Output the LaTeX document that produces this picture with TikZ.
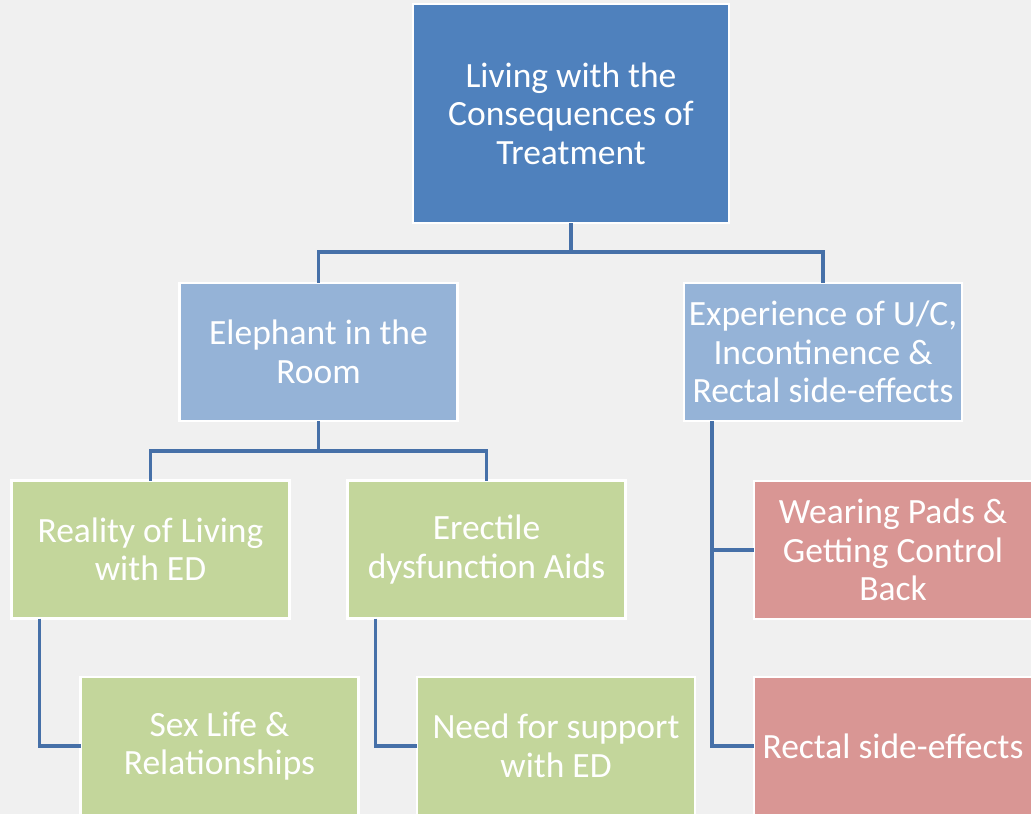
\documentclass[tikz,border=0pt]{standalone}
\usepackage{fontspec}
\setmainfont{Carlito}
\usetikzlibrary{calc}
\definecolor{bgpaper}{HTML}{F0F0F0}
\definecolor{topblue}{HTML}{4F81BD}
\definecolor{midblue}{HTML}{95B3D7}
\definecolor{leafgreen}{HTML}{C3D69B}
\definecolor{leafred}{HTML}{D99694}
\definecolor{linkblue}{HTML}{4670A8}
\tikzset{
  box/.style={draw=white, line width=2.5pt, inner sep=0pt, outer sep=0pt,
    minimum width=278pt, minimum height=138pt, align=center, text=white,
    font=\fontsize{35.5}{38.5}\selectfont},
  rootbox/.style={box, fill=topblue, minimum width=316pt, minimum height=219pt},
  themebox/.style={box, fill=midblue},
  edbox/.style={box, fill=leafgreen},
  ucbox/.style={box, fill=leafred},
  link/.style={draw=linkblue, line width=3.2pt}
}
\begin{document}
\begin{tikzpicture}[x=1pt,y=-1pt]
  \useasboundingbox (0,0) rectangle (1031,814);
  \fill[bgpaper] (0,0) rectangle (1031,814);
  \clip (0,0) rectangle (1031,814);

  % hierarchy boxes
  \node[rootbox]  (root)   at (571,113.5) {Living with the\\Consequences of\\Treatment};
  \node[themebox] (eleph)  at (318.5,352) {Elephant in the\\Room};
  \node[themebox] (exper)  at (823,352)   {Experience of U/C,\\Incontinence \&\\Rectal side-effects};
  \node[edbox]    (real)   at (150.5,549.5) {Reality of Living\\with ED};
  \node[edbox]    (aids)   at (486.5,549.5) {Erectile\\dysfunction Aids};
  \node[edbox]    (sex)    at (219.5,746) {Sex Life \&\\Relationships};
  \node[edbox]    (need)   at (556,746)   {Need for support\\with ED};
  \node[ucbox]    (pads)   at (893,550)   {Wearing Pads \&\\Getting Control\\Back};
  \node[ucbox]    (rectal) at (893,746)   {Rectal side-effects};

  % connectors
  \coordinate (j1) at ($(root.south)+(0,29)$);
  \coordinate (j2) at ($(eleph.south)+(0,30)$);
  \draw[link] (root.south) -- (j1) -| (eleph.north);
  \draw[link] (j1) -| (exper.north);
  \draw[link] (eleph.south) -- (j2) -| (real.north);
  \draw[link] (j2) -| (aids.north);
  \draw[link] ($(real.south west)+(28,0)$) |- (sex.west);
  \draw[link] ($(aids.south west)+(28,0)$) |- (need.west);
  \draw[link] ($(exper.south west)+(28,0)$) |- (rectal.west);
  \draw[link] ($(exper.south west)+(28,0)$) |- (pads.west);
\end{tikzpicture}
\end{document}
